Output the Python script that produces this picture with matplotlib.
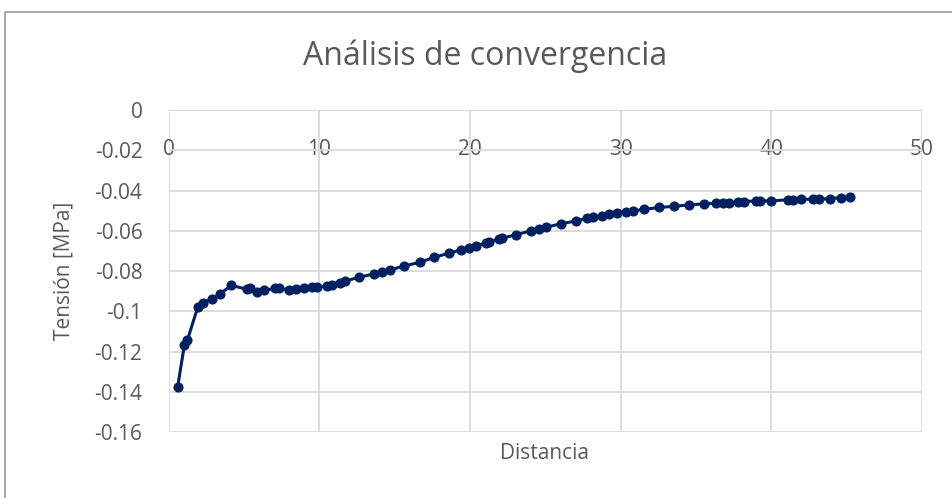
import numpy as np
import matplotlib.pyplot as plt
from matplotlib.patches import Rectangle

# Analisis de convergencia: tension vs distancia
distancia = [0.59, 1.03, 1.23, 1.92, 2.30, 2.85, 3.41, 4.14, 5.18, 5.40,
             5.85, 6.33, 7.07, 7.29, 7.95, 8.46, 8.95, 9.51, 9.84, 10.51,
             10.84, 11.39, 11.72, 12.61, 13.65, 14.17, 14.67, 15.65, 16.67, 17.64,
             18.60, 19.42, 19.93, 20.37, 21.04, 21.26, 21.92, 22.15, 23.03, 24.03,
             24.58, 25.03, 26.03, 27.03, 27.80, 28.14, 28.76, 29.24, 29.75, 30.35,
             30.80, 31.57, 32.57, 33.57, 34.56, 35.56, 36.34, 36.79, 37.23, 37.79,
             38.18, 39.00, 39.29, 40.00, 41.11, 41.44, 42.00, 42.77, 43.21, 43.88,
             44.66, 45.21]
tension = [-0.1373, -0.1169, -0.1144, -0.0979, -0.0956, -0.0937, -0.0914, -0.0870, -0.0890, -0.0886,
           -0.0903, -0.0896, -0.0885, -0.0885, -0.0893, -0.0890, -0.0885, -0.0877, -0.0880, -0.0873,
           -0.0870, -0.0859, -0.0849, -0.0831, -0.0813, -0.0804, -0.0794, -0.0774, -0.0756, -0.0731,
           -0.0711, -0.0694, -0.0683, -0.0675, -0.0661, -0.0655, -0.0641, -0.0636, -0.0620, -0.0600,
           -0.0589, -0.0582, -0.0565, -0.0551, -0.0537, -0.0532, -0.0524, -0.0516, -0.0509, -0.0504,
           -0.0501, -0.0493, -0.0484, -0.0478, -0.0471, -0.0466, -0.0463, -0.0460, -0.0460, -0.0458,
           -0.0455, -0.0451, -0.0451, -0.0451, -0.0446, -0.0446, -0.0443, -0.0443, -0.0443, -0.0440,
           -0.0435, -0.0430]

xticks = [0, 10, 20, 30, 40, 50]
yticks = [0, -0.02, -0.04, -0.06, -0.08, -0.1, -0.12, -0.14, -0.16]
ytick_labels = ['0', '-0.02', '-0.04', '-0.06', '-0.08', '-0.1', '-0.12', '-0.14', '-0.16']

txt = '#595959'
grid = '#d9d9d9'
plt.rcParams['font.family'] = ['Open Sans', 'DejaVu Sans']

fig = plt.figure(figsize=(9.52, 4.98), dpi=100)
ax = fig.add_axes([168.8/952, 1-432.3/498, (921.7-168.8)/952, (432.3-110)/498])

# outer chart border (cut off at right/bottom like the screenshot)
fig.patches.append(Rectangle((5/952, -0.1), 1.2, 1-12/498+0.1, transform=fig.transFigure,
                             fill=False, edgecolor='#9a9a9a', linewidth=1.2))

ax.plot(distancia, tension, '-o', color='#002060', linewidth=2.2, markersize=6.3)

ax.set_xlim(0, 50)
ax.set_ylim(-0.16, 0)
ax.set_xticks(xticks)
ax.set_yticks(yticks)
ax.set_yticklabels(ytick_labels)
ax.grid(True, color=grid, linewidth=1.3)
ax.set_axisbelow(True)
for s in ax.spines.values():
    s.set_visible(False)
ax.spines['bottom'].set_visible(True)
ax.spines['bottom'].set_position(('data', 0))
ax.spines['bottom'].set_color(grid)
ax.tick_params(axis='both', length=0, colors=txt, labelsize=15)
ax.tick_params(axis='x', pad=21)
ax.tick_params(axis='y', pad=19)

fig.text(485/952, 1-56/498, 'Análisis de convergencia', color=txt, fontsize=23,
         ha='center', va='center')
ax.set_ylabel('Tensión [MPa]', color=txt, fontsize=15, labelpad=14)
fig.text(545/952, 1-453/498, 'Distancia', color=txt, fontsize=15, ha='center', va='center')

plt.savefig('out.png', dpi=100)
